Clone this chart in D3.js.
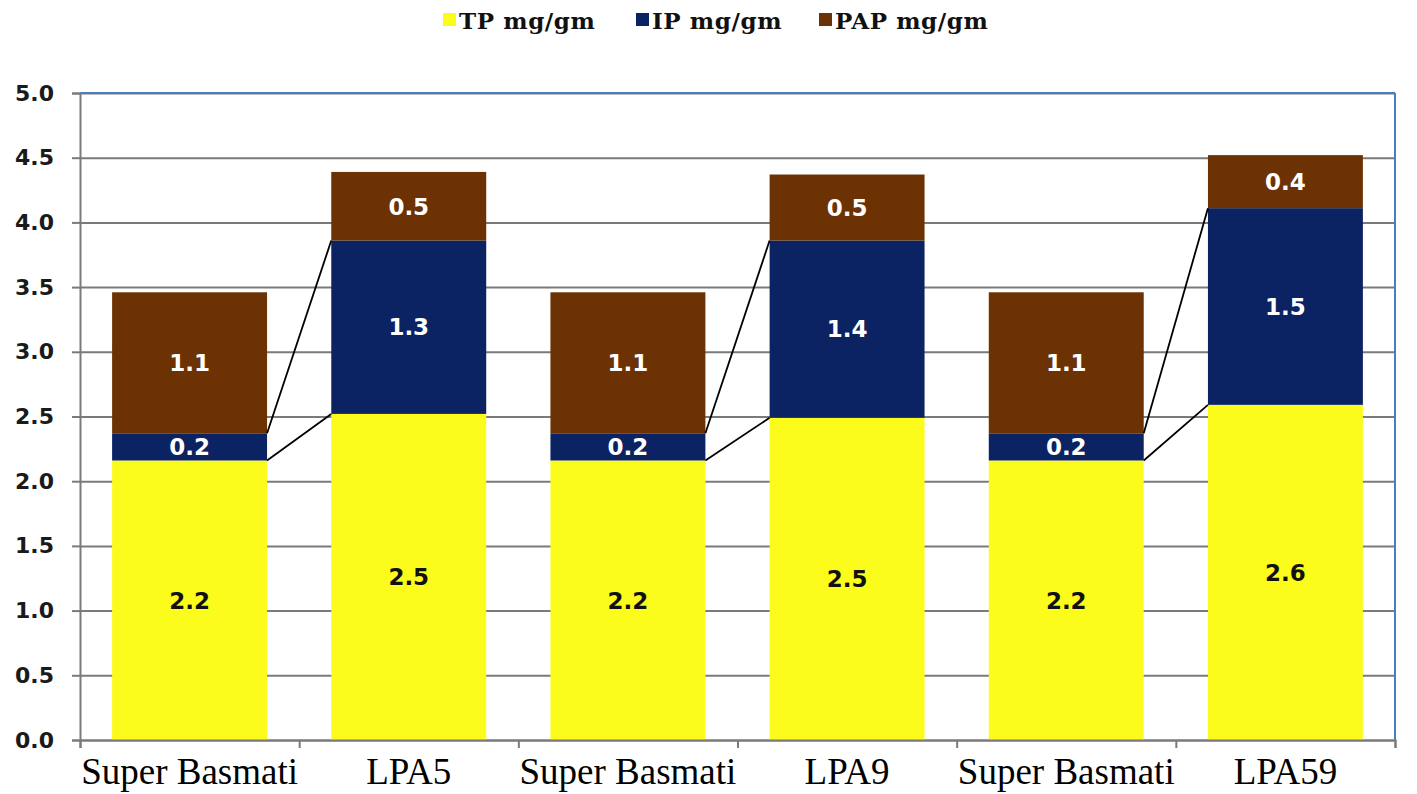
<!DOCTYPE html>
<html>
<head>
<meta charset="utf-8">
<script src="https://cdn.jsdelivr.net/npm/d3@7"></script>
<style>
  body { margin: 0; background: #fff; }
</style>
</head>
<body>
<svg width="1417" height="794"></svg>
<script>
// data
const categories = ["Super Basmati", "LPA5", "Super Basmati", "LPA9", "Super Basmati", "LPA59"]
const tpValues = [2.16, 2.52, 2.16, 2.49, 2.16, 2.59]
const ipValues = [0.21, 1.34, 0.21, 1.37, 0.21, 1.52]
const papValues = [1.09, 0.53, 1.09, 0.51, 1.09, 0.41]
const seriesNames = ["TP mg/gm", "IP mg/gm", "PAP mg/gm"]
const yTicks = [0, 0.5, 1, 1.5, 2, 2.5, 3, 3.5, 4, 4.5, 5]
// which bars are joined by the thin lines (control -> line)
const pairs = [[0, 1], [2, 3], [4, 5]]

const colors = ["#fcfc1c", "#0b2363", "#6c3203"]
const labelColors = ["#111", "#fff", "#fff"]

const svg = d3.select("svg")
const width = +svg.attr("width")
const height = +svg.attr("height")
const margin = { top: 93, right: 22, bottom: 54, left: 80 }
const innerW = width - margin.left - margin.right
const innerH = height - margin.top - margin.bottom

const rows = categories.map((c, i) => ({ i: i, TP: tpValues[i], IP: ipValues[i], PAP: papValues[i] }))
const keys = ["TP", "IP", "PAP"]
const stacked = d3.stack().keys(keys)(rows)

const x = d3.scaleBand()
  .domain(d3.range(categories.length))
  .range([0, innerW])
  .paddingInner(0.293)
  .paddingOuter(0.1465)

const y = d3.scaleLinear()
  .domain([0, 5])
  .range([innerH, 0])

const g = svg.append("g")
  .attr("transform", `translate(${margin.left},${margin.top})`)

// grid
const grid = g.append("g").call(d3.axisLeft(y).tickValues(yTicks).tickSize(-innerW).tickFormat(""))
grid.select(".domain").remove()
grid.selectAll(".tick line").attr("stroke", "#7a7a7a").attr("stroke-width", 2)

// plot border (top + right are blue)
g.append("line").attr("x1", 0).attr("x2", innerW).attr("y1", 0).attr("y2", 0)
  .attr("stroke", "#4a7ebb").attr("stroke-width", 2)
g.append("line").attr("x1", innerW).attr("x2", innerW).attr("y1", 0).attr("y2", innerH)
  .attr("stroke", "#4a7ebb").attr("stroke-width", 2)

// bars
const layer = g.selectAll(".layer").data(stacked).enter().append("g")
  .attr("fill", (d, k) => colors[k])

layer.selectAll("rect").data(d => d).enter().append("rect")
  .attr("x", d => x(d.data.i))
  .attr("y", d => y(d[1]))
  .attr("width", x.bandwidth())
  .attr("height", d => y(d[0]) - y(d[1]))

// connector lines between paired bars, at TP top and IP top
keys.slice(0, 2).forEach((key, k) => {
  pairs.forEach(p => {
    const a = stacked[k][p[0]], b = stacked[k][p[1]]
    g.append("line")
      .attr("x1", x(p[0]) + x.bandwidth())
      .attr("y1", y(a[1]))
      .attr("x2", x(p[1]))
      .attr("y2", y(b[1]))
      .attr("stroke", "#000")
      .attr("stroke-width", 1.8)
  })
})

// value labels
stacked.forEach((s, k) => {
  g.selectAll(".lab" + k).data(s).enter().append("text")
    .attr("x", d => x(d.data.i) + x.bandwidth() / 2)
    .attr("y", d => (y(d[0]) + y(d[1])) / 2)
    .attr("dy", "0.36em")
    .attr("text-anchor", "middle")
    .attr("font-family", "DejaVu Sans, Verdana, sans-serif")
    .attr("font-weight", "bold")
    .attr("font-size", "23px")
    .attr("fill", labelColors[k])
    .text(d => (d[1] - d[0]).toFixed(1))
})

// y axis
const yAxisG = g.append("g").call(d3.axisLeft(y).tickValues(yTicks).tickSize(8).tickPadding(18).tickFormat(d3.format(".1f")))
yAxisG.select(".domain").attr("stroke", "#7a7a7a").attr("stroke-width", 2)
yAxisG.selectAll(".tick line").attr("stroke", "#7a7a7a").attr("stroke-width", 2)
yAxisG.selectAll("text")
  .attr("font-family", "DejaVu Sans, Verdana, sans-serif")
  .attr("font-weight", "bold")
  .attr("font-size", "22px")
  .attr("fill", "#1a1a1a")

// x axis: boundary ticks + category names
const xEdge = d3.scaleLinear().domain([0, categories.length]).range([0, innerW])
const xAxisG = g.append("g")
  .attr("transform", `translate(0,${innerH})`)
  .call(d3.axisBottom(xEdge).ticks(categories.length).tickSize(8).tickFormat(""))
xAxisG.select(".domain").attr("stroke", "#7a7a7a").attr("stroke-width", 2)
xAxisG.selectAll(".tick line").attr("stroke", "#7a7a7a").attr("stroke-width", 2)

const xLabG = g.append("g")
  .attr("transform", `translate(0,${innerH})`)
  .call(d3.axisBottom(x).tickSize(0).tickPadding(18).tickFormat(i => categories[i]))
xLabG.select(".domain").remove()
xLabG.selectAll("text")
  .attr("font-family", "Liberation Serif, Times New Roman, serif")
  .attr("font-size", "37px")
  .attr("fill", "#000")

// legend
const legendX = [443, 636, 819]
const legend = svg.append("g")
seriesNames.forEach((name, k) => {
  legend.append("rect")
    .attr("x", legendX[k]).attr("y", 13)
    .attr("width", 13).attr("height", 13)
    .attr("fill", colors[k])
  legend.append("text")
    .attr("x", legendX[k] + 16).attr("y", 29)
    .attr("font-family", "DejaVu Serif, serif")
    .attr("font-weight", "bold")
    .attr("font-size", "23px")
    .attr("letter-spacing", "0.6px")
    .attr("fill", "#111")
    .text(name)
})
</script>
</body>
</html>
